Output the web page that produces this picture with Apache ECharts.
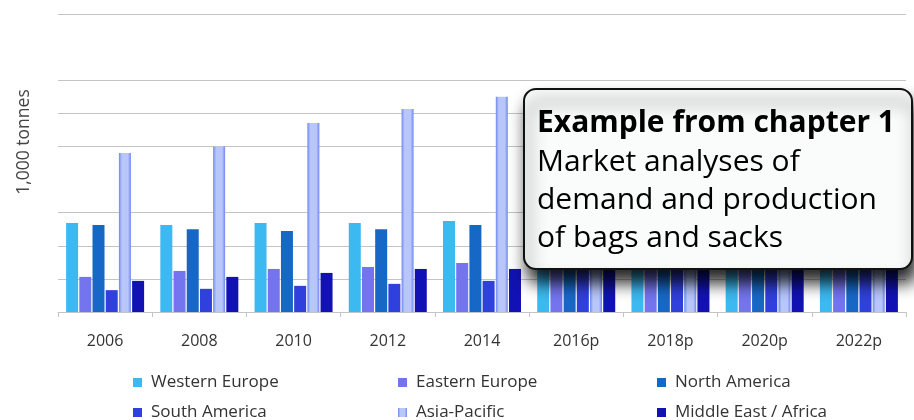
<!DOCTYPE html>
<html>
<head>
<meta charset="utf-8">
<script src="https://cdn.jsdelivr.net/npm/echarts@6/dist/echarts.min.js"></script>
<style>
  html, body { margin: 0; padding: 0; background: #fff; }
  #chart { width: 914px; height: 420px; }
</style>
</head>
<body>
<div id="chart"></div>
<script>
// years on the x axis (p = projection)
const years = ['2006', '2008', '2010', '2012', '2014', '2016p', '2018p', '2020p', '2022p'];

// demand per region, 1,000 tonnes (projections are hidden under the note)
const westernEurope = [2690, 2630, 2690, 2690, 2750, 2800, 2850, 2900, 2950];
const easternEurope = [1060, 1240, 1300, 1360, 1480, 1600, 1700, 1800, 1900];
const northAmerica  = [2630, 2500, 2450, 2500, 2630, 2680, 2730, 2780, 2830];
const southAmerica  = [660, 700, 790, 850, 940, 1400, 1500, 1600, 1700];
const asiaPacific   = [4800, 5000, 5710, 6130, 6500, 6550, 6600, 6620, 6650];
const middleEast    = [940, 1060, 1180, 1300, 1300, 1450, 1550, 1650, 1750];

const FONT = '"Open Sans", sans-serif';

const chart = echarts.init(document.getElementById('chart'));

// light bar with darker edges, like the Asia-Pacific columns
const apColor = new echarts.graphic.LinearGradient(0, 0, 1, 0, [
    { offset: 0, color: '#6f88ee' },
    { offset: 0.25, color: '#b8c6fa' },
    { offset: 0.75, color: '#b8c6fa' },
    { offset: 1, color: '#6f88ee' }
]);

function barSeries(name, data, color) {
    return {
        name: name,
        type: 'bar',
        data: data,
        barWidth: 12,
        barGap: '10%',
        itemStyle: { color: color },
        emphasis: { disabled: true }
    };
}

function legendBlock(left, names) {
    return {
        orient: 'vertical',
        left: left,
        top: 369,
        height: 100,
        itemWidth: 9,
        itemHeight: 9,
        itemGap: 13,
        icon: 'rect',
        data: names,
        textStyle: { fontFamily: FONT, fontSize: 17, lineHeight: 17, color: '#333', padding: [0, 0, 0, 4] }
    };
}

// the note box drawn over the right part of the chart
function noteText(y, text, bold) {
    return {
        type: 'text',
        x: 537,
        y: y,
        z: 101,
        style: {
            text: text,
            fontFamily: FONT,
            fontWeight: bold ? 'bold' : 'normal',
            fontSize: 30,
            fill: '#000',
            verticalAlign: 'middle'
        }
    };
}

const option = {
    backgroundColor: '#fff',
    animation: false,
    grid: { left: 58, right: 8, top: 14, bottom: 108 },
    xAxis: {
        type: 'category',
        data: years,
        axisLine: { lineStyle: { color: '#c4c4c4' } },
        axisTick: { show: true, length: 5, lineStyle: { color: '#c4c4c4' } },
        axisLabel: { margin: 21, fontFamily: FONT, fontSize: 16, color: '#333' }
    },
    yAxis: {
        type: 'value',
        min: 0,
        max: 9000,
        interval: 1000,
        axisLine: { show: false },
        axisTick: { show: false },
        axisLabel: { show: false },
        splitLine: {
            lineStyle: {
                // some grid lines are not visible in the source
                color: ['#c4c4c4', '#c4c4c4', '#c4c4c4', '#c4c4c4', 'rgba(0,0,0,0)',
                        '#c4c4c4', '#c4c4c4', '#c4c4c4', 'rgba(0,0,0,0)', '#c4c4c4']
            }
        }
    },
    legend: [
        legendBlock(128, ['Western Europe', 'South America']),
        legendBlock(393, ['Eastern Europe', 'Asia-Pacific']),
        legendBlock(652, ['North America', 'Middle East / Africa'])
    ],
    series: [
        barSeries('Western Europe', westernEurope, '#3cb9f0'),
        barSeries('Eastern Europe', easternEurope, '#7474ee'),
        barSeries('North America', northAmerica, '#1768c6'),
        barSeries('South America', southAmerica, '#3040dc'),
        barSeries('Asia-Pacific', asiaPacific, apColor),
        barSeries('Middle East / Africa', middleEast, '#1212b4')
    ],
    graphic: [
        {
            type: 'text',
            x: 24,
            y: 142,
            rotation: Math.PI / 2,
            style: {
                text: '1,000 tonnes',
                fontFamily: FONT,
                fontSize: 17.5,
                fill: '#444',
                align: 'center',
                verticalAlign: 'middle'
            }
        },
        {
            type: 'rect',
            z: 100,
            shape: { x: 524, y: 89, width: 388, height: 180, r: 12 },
            style: {
                fill: '#fafbfb',
                stroke: '#111',
                lineWidth: 2,
                shadowColor: 'rgba(0,0,0,0.85)',
                shadowBlur: 16,
                shadowOffsetX: 4,
                shadowOffsetY: 13
            }
        },
        noteText(123, 'Example from chapter 1', true),
        noteText(162, 'Market analyses of', false),
        noteText(200, 'demand and production', false),
        noteText(238, 'of bags and sacks', false)
    ]
};

chart.setOption(option);
</script>
</body>
</html>
